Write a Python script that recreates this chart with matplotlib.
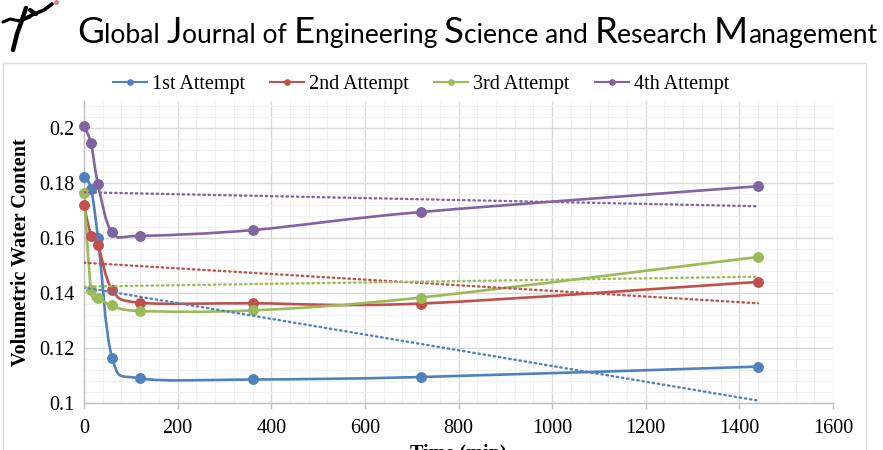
import numpy as np
import matplotlib
matplotlib.use("Agg")
import matplotlib.pyplot as plt
from matplotlib.path import Path
from matplotlib.patches import PathPatch, Rectangle
from matplotlib.lines import Line2D
from matplotlib.ticker import MultipleLocator

# time of each reading (min)
time_min = [0, 15, 30, 60, 120, 360, 720, 1440]

# volumetric water content for each attempt
attempt_1 = [0.1823, 0.1780, 0.1599, 0.1164, 0.1088, 0.1084, 0.1093, 0.1131]
attempt_2 = [0.1721, 0.1609, 0.1574, 0.1412, 0.1364, 0.1362, 0.1361, 0.1440]
attempt_3 = [0.1766, 0.1412, 0.1383, 0.1354, 0.1334, 0.1336, 0.1383, 0.1531]
attempt_4 = [0.2008, 0.1945, 0.1796, 0.1621, 0.1608, 0.1629, 0.1695, 0.1789]

# linear trend lines (value at first and last reading)
trend_x = [0, 1440]
trend_1 = [0.1420, 0.1007]
trend_2 = [0.1510, 0.1362]
trend_3 = [0.1423, 0.1459]
trend_4 = [0.1767, 0.1716]

labels = ["1st Attempt", "2nd Attempt", "3rd Attempt", "4th Attempt"]
colors = ["#4F81BD", "#C0504D", "#9BBB59", "#8064A2"]

W, H = 883, 450
SERIF = ["Liberation Serif", "DejaVu Serif"]


def fx(px):
    return px / W


def fy(py):
    return 1 - py / H


def smooth_path(xs, ys):
    """Excel-like smoothed line: cubic Bezier through every point."""
    pts = np.column_stack([xs, ys]).astype(float)
    n = len(pts)
    verts = [pts[0]]
    codes = [Path.MOVETO]
    for i in range(n - 1):
        p0 = pts[max(i - 1, 0)]
        p1 = pts[i]
        p2 = pts[i + 1]
        p3 = pts[min(i + 2, n - 1)]
        verts += [p1 + (p2 - p0) / 6, p2 - (p3 - p1) / 6, p2]
        codes += [Path.CURVE4] * 3
    return Path(verts, codes)


fig = plt.figure(figsize=(W / 100, H / 100), dpi=100)
fig.patch.set_facecolor("white")

# chart frame
fig.add_artist(Rectangle((fx(3), fy(470)), fx(866) - fx(3), fy(63) - fy(470),
                         transform=fig.transFigure, fill=False,
                         edgecolor="#D9D9D9", lw=1.0))

# rough journal logo
logo = [
    ([13, 17, 22, 26], [50, 34, 20, 8], 3.2),
    ([3, 10, 20, 30], [22, 19, 21, 17], 2.2),
    ([20, 32, 44, 52], [21, 15, 10, 4], 2.6),
    ([30, 36], [10, 14], 3.0),
]
for xs, ys, lw in logo:
    fig.add_artist(Line2D([fx(v) for v in xs], [fy(v) for v in ys],
                          transform=fig.transFigure, color="black", lw=lw,
                          solid_capstyle="round"))
fig.add_artist(Line2D([fx(56)], [fy(2)], transform=fig.transFigure,
                      marker="o", markersize=2.5, color="#E07A8A", lw=0))

# header with enlarged initials
pieces = [("G", True), ("lobal ", False), ("J", True), ("ournal of ", False),
          ("E", True), ("ngineering ", False), ("S", True), ("cience and ", False),
          ("R", True), ("esearch ", False), ("M", True), ("anagement", False)]
renderer = fig.canvas.get_renderer()
big, small = 29.0, 21.0
hdr_font = ["Lato", "DejaVu Sans"]


def header_width(b, s):
    tot = 0
    for txt, cap in pieces:
        t = fig.text(0, 0, txt, fontsize=b if cap else s, family=hdr_font)
        tot += t.get_window_extent(renderer).width
        t.remove()
    return tot


scale = 801 / header_width(big, small)
big, small = big * scale, small * scale
x = 77
for txt, cap in pieces:
    t = fig.text(fx(x), fy(43), txt, fontsize=big if cap else small,
                 family=hdr_font, va="baseline", ha="left", color="black")
    x += t.get_window_extent(renderer).width

# plot area
ax = fig.add_axes([fx(84), fy(402.5), fx(833) - fx(84), fy(101) - fy(402.5)])
ax.set_xlim(0, 1600)
ax.set_ylim(0.1, 0.21)
ax.xaxis.set_major_locator(MultipleLocator(200))
ax.xaxis.set_minor_locator(MultipleLocator(40))
ax.yaxis.set_major_locator(MultipleLocator(0.02))
ax.yaxis.set_minor_locator(MultipleLocator(0.004))
ax.grid(which="major", color="#D9D9D9", lw=1.0)
ax.grid(which="minor", color="#F0F0F0", lw=0.8)
ax.set_axisbelow(True)
for side in ["top", "right"]:
    ax.spines[side].set_visible(False)
for side in ["left", "bottom"]:
    ax.spines[side].set_color("#BFBFBF")
    ax.spines[side].set_linewidth(1.0)
ax.tick_params(axis="x", which="major", length=4, width=1, color="#BFBFBF",
               pad=8, labelsize=14.5)
ax.tick_params(axis="y", which="major", length=0, pad=7, labelsize=14.5)
ax.tick_params(which="minor", length=0)
ax.set_yticks([0.1, 0.12, 0.14, 0.16, 0.18, 0.2])
ax.set_yticklabels(["0.1", "0.12", "0.14", "0.16", "0.18", "0.2"])
for lab in ax.get_xticklabels() + ax.get_yticklabels():
    lab.set_family(SERIF)

series = [attempt_1, attempt_2, attempt_3, attempt_4]
trends = [trend_1, trend_2, trend_3, trend_4]
for vals, col in zip(series, colors):
    ax.add_patch(PathPatch(smooth_path(time_min, vals), fill=False,
                           edgecolor=col, lw=1.9, capstyle="round",
                           joinstyle="round", zorder=3))
    ax.plot(time_min, vals, lw=0, marker="o", markersize=6.8, color=col,
            zorder=4, clip_on=False)
for vals, col in zip(trends, colors):
    ax.plot(trend_x, vals, color=col, lw=1.7, linestyle=(0, (0.6, 1.6)),
            dash_capstyle="round", zorder=5)

ax.set_ylabel("Volumetric Water Content", family=SERIF, fontweight="bold",
              fontsize=14.5, labelpad=6)
ax.set_xlabel("Time (min)", family=SERIF, fontweight="bold", fontsize=14.5,
              labelpad=4)

handles = [Line2D([], [], color=c, lw=1.5, marker="o", markersize=3.8)
           for c in colors]
fig.legend(handles, labels, loc="center", bbox_to_anchor=(fx(421), fy(84)),
           ncol=4, frameon=False, handlelength=1.7, handletextpad=0.25,
           columnspacing=1.25, prop={"family": SERIF, "size": 14.5})

fig.savefig("out.png", dpi=100)
